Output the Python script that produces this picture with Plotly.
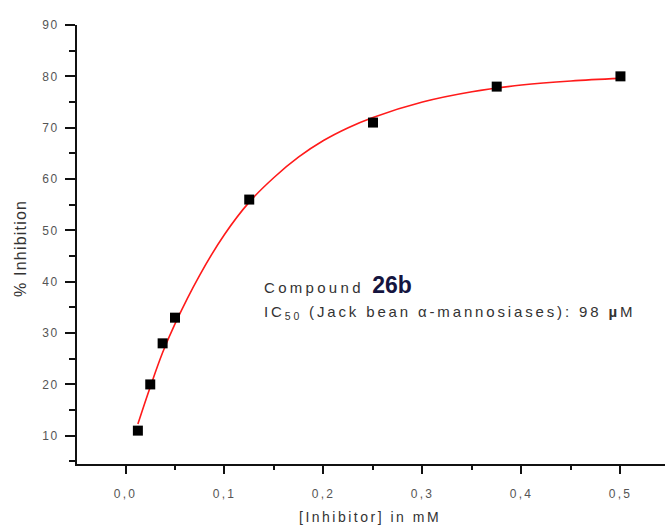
import plotly.graph_objects as go

# Measured data
conc_mM = [0.0125, 0.025, 0.0375, 0.05, 0.125, 0.25, 0.375, 0.5]
inhibition = [11, 20, 28, 33, 56, 71, 78, 80]

# Fitted curve
fit_x = [0.0125, 0.025, 0.0375, 0.05, 0.075, 0.1, 0.125, 0.15, 0.175, 0.2,
         0.225, 0.25, 0.3, 0.35, 0.4, 0.45, 0.5]
fit_y = [12.3, 19.5, 26.2, 31.8, 41.3, 49.2, 55.5, 60.3, 64.3, 67.5,
         70.0, 72.0, 75.0, 77.0, 78.3, 79.1, 79.6]

x_ticks = [0.0, 0.1, 0.2, 0.3, 0.4, 0.5]
x_tick_labels = ["0,0", "0,1", "0,2", "0,3", "0,4", "0,5"]
x_minor = [0.05, 0.15, 0.25, 0.35, 0.45]
y_ticks = [10, 20, 30, 40, 50, 60, 70, 80, 90]
y_minor = [5, 15, 25, 35, 45, 55, 65, 75, 85]

FONT = "Liberation Sans, Arial, sans-serif"
TXT = "#333333"
TICK = "#555555"


def spaced(s, sp):
    return f"<span style='letter-spacing:{sp}px'>{s}</span>"


fig = go.Figure()
fig.add_trace(go.Scatter(x=fit_x, y=fit_y, mode="lines",
                         line=dict(color="#ff1a1a", width=1.6, shape="spline"),
                         hoverinfo="skip", showlegend=False))
fig.add_trace(go.Scatter(x=conc_mM, y=inhibition, mode="markers",
                         marker=dict(symbol="square", size=10, color="black"),
                         showlegend=False))

axis_common = dict(showgrid=False, zeroline=False, showline=True,
                   linecolor="#111111", linewidth=2, ticks="outside",
                   tickcolor="#111111", tickwidth=2,
                   tickfont=dict(family=FONT, size=12, color=TICK))

fig.update_xaxes(range=[-0.049, 0.545], tickmode="array", tickvals=x_ticks,
                 ticktext=[spaced(t, 2.2) for t in x_tick_labels],
                 ticklen=8, ticklabelstandoff=10,
                 minor=dict(tickmode="array", tickvals=x_minor, ticklen=4,
                            tickcolor="#111111", tickwidth=2, ticks="outside"),
                 **axis_common)
fig.update_yaxes(range=[4.5, 90], tickmode="array", tickvals=y_ticks,
                 ticktext=[spaced(str(t), 1.5) for t in y_ticks],
                 ticklen=10, ticklabelstandoff=4,
                 minor=dict(tickmode="array", tickvals=y_minor, ticklen=6,
                            tickcolor="#111111", tickwidth=2, ticks="outside"),
                 **axis_common)

annotations = [
    dict(x=-0.097, y=0.492, xref="paper", yref="paper", textangle=-90,
         xanchor="center", yanchor="middle",
         text=spaced("% Inhibition", 1.2), showarrow=False,
         font=dict(family=FONT, size=16, color=TXT)),
    dict(x=0.498, y=-0.1207, xref="paper", yref="paper",
         xanchor="center", yanchor="middle",
         text=spaced("[Inhibitor] in mM", 2.5), showarrow=False,
         font=dict(family=FONT, size=14, color=TXT)),
    dict(x=0.1377, y=39.3, xref="x", yref="y", xanchor="left", yanchor="middle",
         text=spaced("Compound", 3.3) + "  "
         + "<span style='font-size:23px;color:#15153f'><b>26b</b></span>",
         showarrow=False, font=dict(family=FONT, size=15, color=TXT)),
    dict(x=0.1377, y=34.1, xref="x", yref="y", xanchor="left", yanchor="middle",
         text=spaced("IC<sub>50</sub> (Jack bean \u03b1-mannosiases): 98 <b>\u00b5</b>M", 2.85),
         showarrow=False, font=dict(family=FONT, size=15, color=TXT)),
]

fig.update_layout(width=665, height=529,
                  margin=dict(l=77, r=0, t=25, b=65),
                  plot_bgcolor="white", paper_bgcolor="white",
                  annotations=annotations, showlegend=False)

fig.write_html("out.html",
               config={"displayModeBar": False},
               post_script="document.body.style.margin='0px';"
                           "document.body.style.overflow='hidden';")
